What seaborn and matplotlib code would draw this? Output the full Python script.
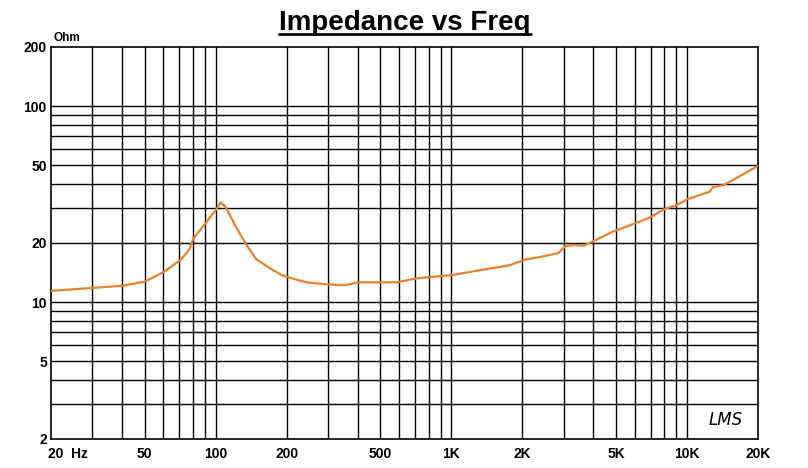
import numpy as np
import pandas as pd
import seaborn as sns
import matplotlib
matplotlib.use("Agg")
import matplotlib.pyplot as plt
from matplotlib.lines import Line2D
from matplotlib.transforms import ScaledTranslation

freq_hz = [20, 30, 40, 50, 52.6, 60, 71, 77.5, 78.9, 80, 90, 100, 105, 110, 122, 135,
           148, 169, 191, 206, 243, 295, 336, 357, 400, 586, 713, 811, 1000, 1310,
           1770, 2030, 2460, 2850, 3050, 3250, 3660, 4030, 4820, 5670, 6970, 8050,
           9000, 9980, 12460, 12900, 14300, 19900]
impedance_ohm = [11.4, 11.8, 12.1, 12.7, 13.1, 14.2, 16.4, 18.6, 19.9, 20.9, 25.0, 29.4,
                 32.2, 30.6, 24.1, 19.6, 16.6, 14.9, 13.7, 13.3, 12.6, 12.3, 12.2,
                 12.2, 12.6, 12.6, 13.2, 13.4, 13.7, 14.5, 15.4, 16.4, 17.1, 17.8,
                 19.3, 19.5, 19.4, 20.5, 22.8, 24.5, 27.0, 29.9, 31.1, 33.4, 36.5,
                 38.6, 39.5, 49.3]

x_ticks = [20, 50, 100, 200, 500, 1000, 2000, 5000, 10000, 20000]
x_tick_labels = ["20  Hz", "50", "100", "200", "500", "1K", "2K", "5K", "10K", "20K"]
y_ticks = [2, 5, 10, 20, 50, 100, 200]
y_tick_labels = ["2", "5", "10", "20", "50", "100", "200"]
x_grid = [30, 40, 50, 60, 70, 80, 90, 100, 200, 300, 400, 500, 600, 700, 800, 900,
          1000, 2000, 3000, 4000, 5000, 6000, 7000, 8000, 9000, 10000]
y_grid = [3, 4, 5, 6, 7, 8, 9, 10, 20, 30, 40, 50, 60, 70, 80, 90, 100]

df = pd.DataFrame({"freq": freq_hz, "imp": impedance_ohm})

sns.set_style("white")
plt.rcParams['font.family'] = ['Liberation Sans', 'DejaVu Sans']
plt.rcParams['text.color'] = 'black'
plt.rcParams['xtick.color'] = 'black'
plt.rcParams['ytick.color'] = 'black'
plt.rcParams['axes.labelcolor'] = 'black'

fig = plt.figure(figsize=(8.08, 4.68), dpi=100)
ax = fig.add_axes([51/808, 1 - 439/468, (758-51)/808, (439-47)/468])
ax.set_xscale("log")
ax.set_yscale("log")
ax.set_xlim(20, 20000)
ax.set_ylim(2, 200)

for g in x_grid:
    ax.axvline(g, color="black", lw=1.0, zorder=1)
for g in y_grid:
    ax.axhline(g, color="black", lw=1.0, zorder=1)

sns.lineplot(data=df, x="freq", y="imp", ax=ax, color="#E8822F", lw=1.6, zorder=3)

ax.set_xticks(x_ticks)
ax.set_xticklabels(x_tick_labels, fontsize=10, fontweight="bold", color="black")
ax.set_yticks(y_ticks)
ax.set_yticklabels(y_tick_labels, fontsize=10, fontweight="bold", color="black")
ax.minorticks_off()
ax.tick_params(axis="x", length=0, pad=6)
ax.tick_params(axis="y", length=0, pad=3)
first = ax.get_xticklabels()[0]
first.set_horizontalalignment("left")
first.set_transform(first.get_transform() + ScaledTranslation(-3/100, 0, fig.dpi_scale_trans))
ax.set_xlabel("")
ax.set_ylabel("")
for s in ax.spines.values():
    s.set_color("black")
    s.set_linewidth(1.2)

fig.text(54/808, 1 - 41/468, "Ohm", fontsize=8.5, fontweight="bold", ha="left",
         va="baseline", color="black")
ax.text(0.954, 0.025, "LMS", transform=ax.transAxes, fontsize=12, style="italic",
        family="DejaVu Sans", ha="center", va="bottom", color="black")

title = fig.text(405/808, 1 - 30/468, "Impedance vs Freq", fontsize=20,
                 fontweight="bold", ha="center", va="baseline", color="black")
fig.canvas.draw()
bb = title.get_window_extent(fig.canvas.get_renderer())
x0, x1 = bb.x0 / 808, bb.x1 / 808
yline = 1 - 33.5/468
fig.add_artist(Line2D([x0, x1], [yline, yline], color="black", lw=2, transform=fig.transFigure))

fig.savefig("out.png", dpi=100)
